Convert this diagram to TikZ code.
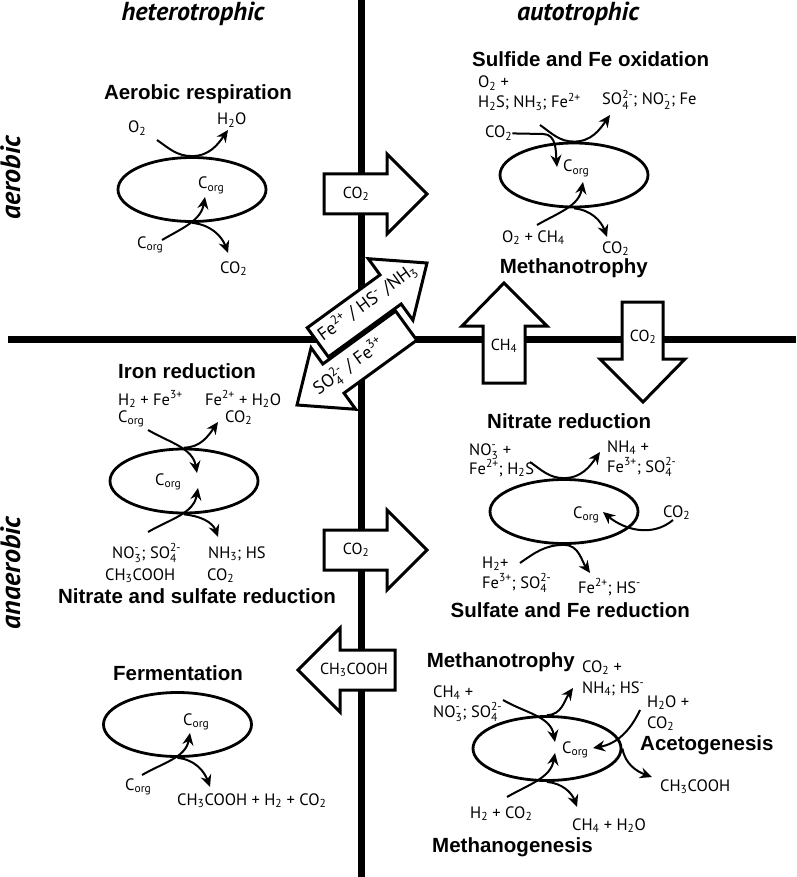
\documentclass[tikz,border=0pt]{standalone}
\usepackage{amsmath}
\usepackage{fontspec}
\setmainfont{PT Sans}
\newfontfamily\headfont{Liberation Sans}
\usetikzlibrary{arrows.meta,shapes.geometric}

\newcommand{\chsub}[1]{\ensuremath{_{\text{#1}}}}
\newcommand{\chsup}[1]{\ensuremath{^{\text{#1}}}}
\newcommand{\chion}[2]{\ensuremath{_{\text{#1}}^{\text{#2}}}}
\newcommand{\Corg}{C\chsub{org}}

\begin{document}
\begin{tikzpicture}[x=1pt,y=1pt,
    axisline/.style={line width=7pt},
    microbe/.style={
        draw,
        ellipse,
        line width=2.8pt,
        minimum width=148pt,
        minimum height=64pt,
        inner sep=0pt
    },
    chem/.style={
        font=\fontsize{16.5}{18}\selectfont,
        inner sep=0pt,
        anchor=base west
    },
    procname/.style={
        font=\headfont\bfseries\fontsize{20.5}{24}\selectfont,
        inner sep=0pt,
        anchor=base
    },
    axislabel/.style={
        font=\bfseries\itshape\fontsize{26}{28}\selectfont,
        inner sep=0pt,
        anchor=base
    },
    flowarrow/.style={
        line width=2pt,
        -{Stealth[length=12pt,width=11pt]}
    },
    blockarrow/.style={
        draw,
        fill=white,
        line width=3pt,
        line join=miter
    },
    boxlabel/.style={
        font=\fontsize{16}{18}\selectfont,
        inner sep=0pt
    }
]
    \useasboundingbox (0,0) rectangle (796,-877);

    % quadrant lines
    \draw[axisline] (361,0) -- (361,-877);
    \draw[axisline] (8,-339.5) -- (796,-339.5);

    \node[axislabel] (hetero) at (193,-21) {heterotrophic};
    \node[axislabel] (auto) at (578,-21) {autotrophic};
    \node[axislabel, font=\bfseries\itshape\fontsize{28}{30}\selectfont, rotate=90] (aero) at (20,-178) {aerobic};
    \node[axislabel, font=\bfseries\itshape\fontsize{28}{30}\selectfont, rotate=90] (anaero) at (20,-573) {anaerobic};

    % exchange arrows between the quadrants
    \draw[blockarrow] (324,-174) -- (387,-174) -- (387,-154) -- (427,-194) -- (387,-234) -- (387,-214) -- (324,-214) -- cycle;
    \node[boxlabel] (co2-up) at (356,-194) {CO\chsub{2}};
    \draw[blockarrow] (324,-530) -- (387,-530) -- (387,-510) -- (427,-550) -- (387,-590) -- (387,-570) -- (324,-570) -- cycle;
    \node[boxlabel] (co2-low) at (356,-550) {CO\chsub{2}};
    \draw[blockarrow] (395,-650) -- (340,-650) -- (340,-628) -- (298,-670) -- (340,-712) -- (340,-690) -- (395,-690) -- cycle;
    \node[boxlabel] (acetate) at (354,-670) {CH\chsub{3}COOH};
    \draw[blockarrow] (483,-383) -- (483,-326) -- (462,-326) -- (504,-283) -- (547,-326) -- (525,-326) -- (525,-383) -- cycle;
    \node[boxlabel] (methane) at (504,-346) {CH\chsub{4}};
    \draw[blockarrow] (622,-302) -- (663,-302) -- (663,-359) -- (685,-359) -- (643,-402) -- (600,-359) -- (622,-359) -- cycle;
    \node[boxlabel] (co2-sink) at (643,-337) {CO\chsub{2}};

    \begin{scope}[shift={(427,-263)}, rotate=36]
        \draw[blockarrow] (0,0) -- (-45,38) -- (-45,18) -- (-135,18) -- (-135,-18) -- (-45,-18) -- (-45,-38) -- cycle;
    \end{scope}
    \node[boxlabel, font=\fontsize{18}{20}\selectfont, rotate=36] (reduced) at (367,-302) {Fe\chsup{2+} / HS\chsup{-} /NH\chsub{3}};
    \begin{scope}[shift={(297,-405)}, rotate=216]
        \draw[blockarrow] (0,0) -- (-45,38) -- (-45,18) -- (-135,18) -- (-135,-18) -- (-45,-18) -- (-45,-38) -- cycle;
    \end{scope}
    \node[boxlabel, font=\fontsize{18}{20}\selectfont, rotate=36] (oxidized) at (349,-367) {SO\chion{4}{2-} / Fe\chsup{3+}};

    % aerobic respiration
    \node[procname] (ar-title) at (198,-100) {Aerobic respiration};
    \node[microbe] (ar-cell) at (192,-189.5) {};
    \node[chem] (ar-o2) at (128,-133) {O\chsub{2}};
    \node[chem] (ar-h2o) at (217,-125) {H\chsub{2}O};
    \node[chem] (ar-corg) at (198,-189) {\Corg};
    \node[chem] (ar-food) at (137,-248) {\Corg};
    \node[chem] (ar-co2) at (220,-273) {CO\chsub{2}};
    \coordinate (ar-a) at (157,-140);
    \coordinate (ar-b) at (228,-130);
    \coordinate (ar-c) at (162,-240);
    \coordinate (ar-d) at (205,-197);
    \coordinate (ar-e) at (228,-253);
    \draw[flowarrow] (ar-a) to[out=-35,in=180] (ar-cell.north) to[out=0,in=-125] (ar-b);
    \draw[flowarrow] (ar-c) to[out=30,in=-100] (ar-d);
    \draw[flowarrow] (ar-cell.south) to[out=-5,in=110] (ar-e);

    % sulfide and Fe oxidation, methanotrophy
    \node[procname, anchor=base west] (so-title) at (472,-67) {Sulfide and Fe oxidation};
    \node[chem] (so-in1) at (478,-88) {O\chsub{2} +};
    \node[chem] (so-in2) at (478,-108) {H\chsub{2}S; NH\chsub{3}; Fe\chsup{2+}};
    \node[chem] (so-out) at (602,-105) {SO\chion{4}{2-}; NO\chion{2}{-}; Fe};
    \node[chem] (so-co2) at (485,-138) {CO\chsub{2}};
    \node[microbe] (so-cell) at (574,-175) {};
    \node[chem] (so-corg) at (563,-172) {\Corg};
    \node[chem] (mt-in) at (502,-242) {O\chsub{2} + CH\chsub{4}};
    \node[chem] (mt-co2) at (602,-253) {CO\chsub{2}};
    \node[procname, anchor=base east] (mt-title) at (648,-273) {Methanotrophy};
    \coordinate (so-a) at (540,-125);
    \coordinate (so-b) at (610,-115);
    \coordinate (so-bend) at (543,-134);
    \coordinate (so-c) at (557,-167);
    \coordinate (mt-a) at (537,-225);
    \coordinate (mt-b) at (583,-182);
    \coordinate (mt-c) at (607,-237);
    \draw[flowarrow] (so-a) to[out=-35,in=180] (so-cell.north) to[out=0,in=-125] (so-b);
    \draw[flowarrow] (so-co2.east) -- (so-bend) to[out=0,in=95] (so-c);
    \draw[flowarrow] (mt-a) to[out=30,in=-100] (mt-b);
    \draw[flowarrow] (so-cell.south) to[out=-5,in=110] (mt-c);

    % iron reduction, nitrate and sulfate reduction
    \node[procname, anchor=base west] (ir-title) at (118,-378) {Iron reduction};
    \node[chem] (ir-in1) at (118,-405) {H\chsub{2} + Fe\chsup{3+}};
    \node[chem] (ir-in2) at (118,-422) {\Corg};
    \node[chem] (ir-out1) at (205,-405) {Fe\chsup{2+} + H\chsub{2}O};
    \node[chem] (ir-out2) at (225,-422) {CO\chsub{2}};
    \node[microbe] (ir-cell) at (184,-481) {};
    \node[chem] (ir-corg) at (155,-485) {\Corg};
    \coordinate (ir-a) at (148,-430);
    \coordinate (ir-b) at (197,-473);
    \coordinate (ir-c) at (218,-422);
    \coordinate (ir-d) at (148,-532);
    \coordinate (ir-e) at (198,-488);
    \coordinate (ir-f) at (218,-537);
    \draw[flowarrow] (ir-a) to[out=-30,in=100] (ir-b);
    \draw[flowarrow] (ir-cell.north) to[out=0,in=-125] (ir-c);
    \draw[flowarrow] (ir-d) to[out=30,in=-100] (ir-e);
    \draw[flowarrow] (ir-cell.south) to[out=-5,in=110] (ir-f);
    \node[chem] (ir-in3) at (112,-558) {NO\chion{3}{-}; SO\chion{4}{2-}};
    \node[chem] (ir-in4) at (105,-580) {CH\chsub{3}COOH};
    \node[chem] (ir-out3) at (208,-558) {NH\chsub{3}; HS};
    \node[chem] (ir-out4) at (207,-580) {CO\chsub{2}};
    \node[procname] (ns-title) at (197,-603) {Nitrate and sulfate reduction};

    % fermentation
    \node[procname] (fe-title) at (178,-680) {Fermentation};
    \node[microbe] (fe-cell) at (177.5,-724.5) {};
    \node[chem] (fe-corg) at (183,-725) {\Corg};
    \node[chem] (fe-food) at (125,-790) {\Corg};
    \node[chem] (fe-out) at (177,-805) {CH\chsub{3}COOH + H\chsub{2} + CO\chsub{2}};
    \coordinate (fe-a) at (142,-775);
    \coordinate (fe-b) at (190,-733);
    \coordinate (fe-c) at (210,-787);
    \draw[flowarrow] (fe-a) to[out=30,in=-100] (fe-b);
    \draw[flowarrow] (fe-cell.south) to[out=-5,in=110] (fe-c);

    % nitrate reduction, sulfate and Fe reduction
    \node[procname, anchor=base west] (nr-title) at (487,-428) {Nitrate reduction};
    \node[chem] (nr-in1) at (469,-455) {NO\chion{3}{-} +};
    \node[chem] (nr-in2) at (469,-474) {Fe\chsup{2+}; H\chsub{2}S};
    \node[chem] (nr-out1) at (607,-452) {NH\chsub{4} +};
    \node[chem] (nr-out2) at (607,-472) {Fe\chsup{3+}; SO\chion{4}{2-}};
    \node[microbe] (nr-cell) at (564,-511.5) {};
    \node[chem] (nr-corg) at (573,-518) {\Corg};
    \node[chem] (nr-co2) at (663,-517) {CO\chsub{2}};
    \coordinate (nr-a) at (530,-462);
    \coordinate (nr-b) at (600,-452);
    \coordinate (nr-c) at (673,-520);
    \coordinate (nr-d) at (603,-512);
    \coordinate (nr-e) at (520,-563);
    \coordinate (nr-f) at (590,-573);
    \draw[flowarrow] (nr-a) to[out=-35,in=180] (nr-cell.north) to[out=0,in=-125] (nr-b);
    \draw[flowarrow] (nr-c) to[out=-140,in=-40] (nr-d);
    \draw[flowarrow] (nr-e) to[out=35,in=180] (nr-cell.south) to[out=0,in=125] (nr-f);
    \node[chem] (sr-in1) at (482,-568) {H\chsub{2}+};
    \node[chem] (sr-in2) at (482,-588) {Fe\chsup{3+}; SO\chion{4}{2-}};
    \node[chem] (sr-out) at (578,-593) {Fe\chsup{2+}; HS\chsup{-}};
    \node[procname, anchor=base east] (sr-title) at (690,-617) {Sulfate and Fe reduction};

    % methanotrophy, acetogenesis, methanogenesis
    \node[procname, anchor=base east] (ma-title) at (575,-667) {Methanotrophy};
    \node[chem] (ma-out1) at (582,-672) {CO\chsub{2} +};
    \node[chem] (ma-out2) at (582,-693) {NH\chsub{4}; HS\chsup{-}};
    \node[chem] (ma-in1) at (433,-697) {CH\chsub{4} +};
    \node[chem] (ma-in2) at (433,-717) {NO\chion{3}{-}; SO\chion{4}{2-}};
    \node[chem] (ac-in1) at (647,-707) {H\chsub{2}O +};
    \node[chem] (ac-in2) at (647,-728) {CO\chsub{2}};
    \node[procname, anchor=base west] (ac-title) at (640,-750) {Acetogenesis};
    \node[microbe] (mg-cell) at (547,-748.5) {};
    \node[chem] (mg-corg) at (562,-753) {\Corg};
    \node[chem] (ac-out) at (660,-791) {CH\chsub{3}COOH};
    \node[chem] (mg-in) at (470,-818) {H\chsub{2} + CO\chsub{2}};
    \node[chem] (mg-out) at (572,-830) {CH\chsub{4} + H\chsub{2}O};
    \node[procname, anchor=base west] (mg-title) at (432,-852) {Methanogenesis};
    \coordinate (ma-a) at (503,-700);
    \coordinate (ma-b) at (555,-742);
    \coordinate (ma-c) at (573,-688);
    \coordinate (ac-a) at (640,-710);
    \coordinate (ac-b) at (593,-748);
    \coordinate (ac-c) at (652,-777);
    \coordinate (mg-a) at (507,-797);
    \coordinate (mg-b) at (555,-753);
    \coordinate (mg-c) at (577,-807);
    \draw[flowarrow] (ma-a) to[out=-30,in=100] (ma-b);
    \draw[flowarrow] (mg-cell.north) to[out=0,in=-125] (ma-c);
    \draw[flowarrow] (ac-a) to[out=-115,in=10] (ac-b);
    \draw[flowarrow] (mg-cell.east) to[out=-80,in=160] (ac-c);
    \draw[flowarrow] (mg-a) to[out=30,in=-100] (mg-b);
    \draw[flowarrow] (mg-cell.south) to[out=-5,in=110] (mg-c);
\end{tikzpicture}
\end{document}
